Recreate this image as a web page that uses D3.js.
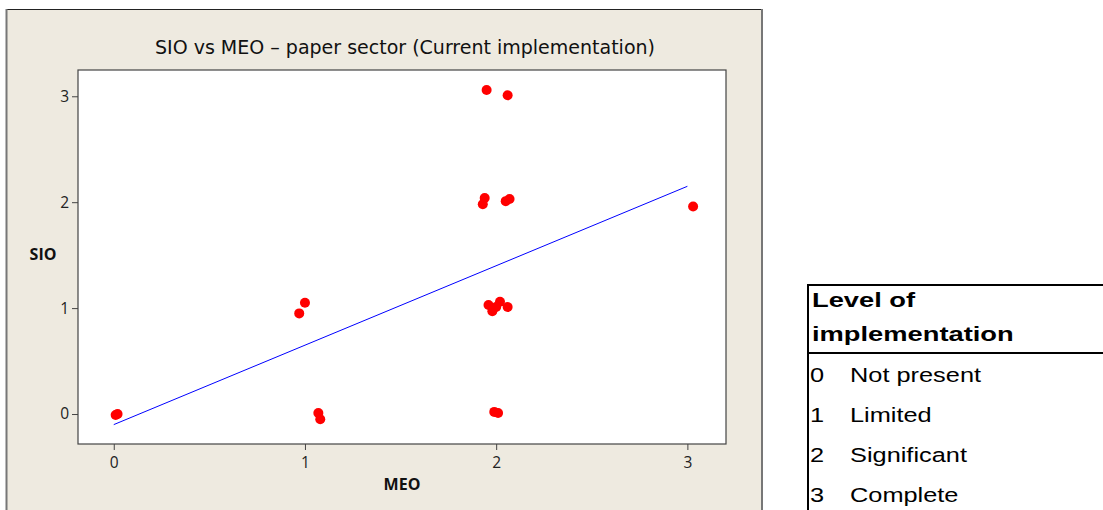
<!DOCTYPE html>
<html>
<head>
<meta charset="utf-8">
<script src="https://cdn.jsdelivr.net/npm/d3@7"></script>
<style>
  html, body { margin: 0; padding: 0; background: #fff; }
  svg { display: block; }
</style>
</head>
<body>
<svg id="chart" width="1103" height="510"></svg>
<script>
// Scatter points (MEO, SIO jittered a bit)
const meo = [0.01, 0.02, 0.97, 1.00, 1.07, 1.08,
  1.95, 2.06, 1.94, 1.93, 2.05, 2.07, 3.03,
  1.96, 1.98, 2.02, 2.00, 2.06, 1.99, 2.01];
const sio = [-0.01, 0.00, 0.95, 1.05, 0.01, -0.05,
  3.06, 3.01, 2.04, 1.98, 2.01, 2.03, 1.96,
  1.03, 0.97, 1.06, 1.01, 1.01, 0.02, 0.01];

// Fitted line
const fitIntercept = -0.10;
const fitSlope = 0.75;
const fitRange = [0, 3];

const xTicks = [0, 1, 2, 3];
const yTicks = [0, 1, 2, 3];

const legendHead = ["Level of", "implementation"];
const legendCodes = ["0", "1", "2", "3"];
const legendLabels = ["Not present", "Limited", "Significant", "Complete"];

const svg = d3.select("#chart");

// outer beige panel
svg.append("rect")
  .attr("x", 6).attr("y", 9)
  .attr("width", 756).attr("height", 520)
  .attr("fill", "#eeeae0");
svg.append("line").attr("x1", 6).attr("x2", 762).attr("y1", 9.5).attr("y2", 9.5)
  .attr("stroke", "#222").attr("stroke-width", 1);
svg.append("line").attr("x1", 6.5).attr("x2", 6.5).attr("y1", 9).attr("y2", 510)
  .attr("stroke", "#777").attr("stroke-width", 2);
svg.append("line").attr("x1", 762).attr("x2", 762).attr("y1", 9).attr("y2", 510)
  .attr("stroke", "#777").attr("stroke-width", 2);

const plot = { left: 78, top: 70, right: 726, bottom: 444 };

const x = d3.scaleLinear().domain([-0.187, 3.202]).range([plot.left, plot.right]);
const y = d3.scaleLinear().domain([-0.283, 3.248]).range([plot.bottom, plot.top]);

svg.append("rect")
  .attr("x", plot.left).attr("y", plot.top)
  .attr("width", plot.right - plot.left).attr("height", plot.bottom - plot.top)
  .attr("fill", "#fff").attr("stroke", "#444").attr("stroke-width", 1.2);

const tickFont = "'Open Sans', sans-serif";

const xAxis = svg.append("g")
  .attr("transform", `translate(0,${plot.bottom})`)
  .call(d3.axisBottom(x).tickValues(xTicks).tickFormat(d3.format("d")).tickSize(6).tickPadding(7));
const yAxis = svg.append("g")
  .attr("transform", `translate(${plot.left},0)`)
  .call(d3.axisLeft(y).tickValues(yTicks).tickFormat(d3.format("d")).tickSize(6).tickPadding(3));
[xAxis, yAxis].forEach(a => {
  a.select(".domain").remove();
  a.selectAll(".tick line").attr("stroke", "#444");
  a.selectAll(".tick text").attr("fill", "#222").style("font-family", tickFont).style("font-size", "15.5px");
});

svg.append("text")
  .attr("x", 155).attr("y", 54)
  .attr("textLength", 500).attr("lengthAdjust", "spacingAndGlyphs")
  .style("font-family", "'DejaVu Sans Condensed', 'DejaVu Sans', sans-serif")
  .style("font-size", "19px").attr("fill", "#111")
  .text("SIO vs MEO \u2013 paper sector (Current implementation)");

svg.append("text")
  .attr("x", 43).attr("y", 260).attr("text-anchor", "middle")
  .style("font-family", tickFont).style("font-weight", "bold").style("font-size", "16px")
  .attr("fill", "#111").text("SIO");
svg.append("text")
  .attr("x", 402).attr("y", 490).attr("text-anchor", "middle")
  .style("font-family", tickFont).style("font-weight", "bold").style("font-size", "16px")
  .attr("fill", "#111").text("MEO");

// regression line
svg.append("line")
  .attr("x1", x(fitRange[0])).attr("y1", y(fitIntercept + fitSlope * fitRange[0]))
  .attr("x2", x(fitRange[1])).attr("y2", y(fitIntercept + fitSlope * fitRange[1]))
  .attr("stroke", "#0000ff").attr("stroke-width", 1);

svg.append("g").selectAll("circle")
  .data(d3.range(meo.length))
  .join("circle")
  .attr("cx", i => x(meo[i]))
  .attr("cy", i => y(sio[i]))
  .attr("r", 5)
  .attr("fill", "#ff0000");

// legend table (text is stretched sideways in the original)
const lg = svg.append("g");
lg.append("line").attr("x1", 807).attr("x2", 1103).attr("y1", 285).attr("y2", 285)
  .attr("stroke", "#000").attr("stroke-width", 2);
lg.append("line").attr("x1", 807).attr("x2", 1103).attr("y1", 353).attr("y2", 353)
  .attr("stroke", "#000").attr("stroke-width", 2);
lg.append("line").attr("x1", 808).attr("x2", 808).attr("y1", 284).attr("y2", 510)
  .attr("stroke", "#000").attr("stroke-width", 2);

const stretch = 1.3;
lg.selectAll("text.head")
  .data(legendHead)
  .join("text")
  .attr("class", "head")
  .attr("transform", (d, i) => `translate(812,${307 + i * 34}) scale(${stretch},1)`)
  .style("font-family", "'Liberation Sans', Arial, sans-serif")
  .style("font-weight", "bold").style("font-size", "21px")
  .text(d => d);

const rows = lg.selectAll("g.row")
  .data(legendCodes)
  .join("g")
  .attr("class", "row")
  .attr("transform", (d, i) => `translate(0,${382 + i * 40})`);
rows.append("text").attr("transform", `translate(810,0) scale(${stretch},1)`)
  .style("font-family", "'Liberation Sans', Arial, sans-serif").style("font-size", "19.5px")
  .text(d => d);
rows.append("text").attr("transform", `translate(850,0) scale(${stretch},1)`)
  .style("font-family", "'Liberation Sans', Arial, sans-serif").style("font-size", "19.5px")
  .text((d, i) => legendLabels[i]);
</script>
</body>
</html>
